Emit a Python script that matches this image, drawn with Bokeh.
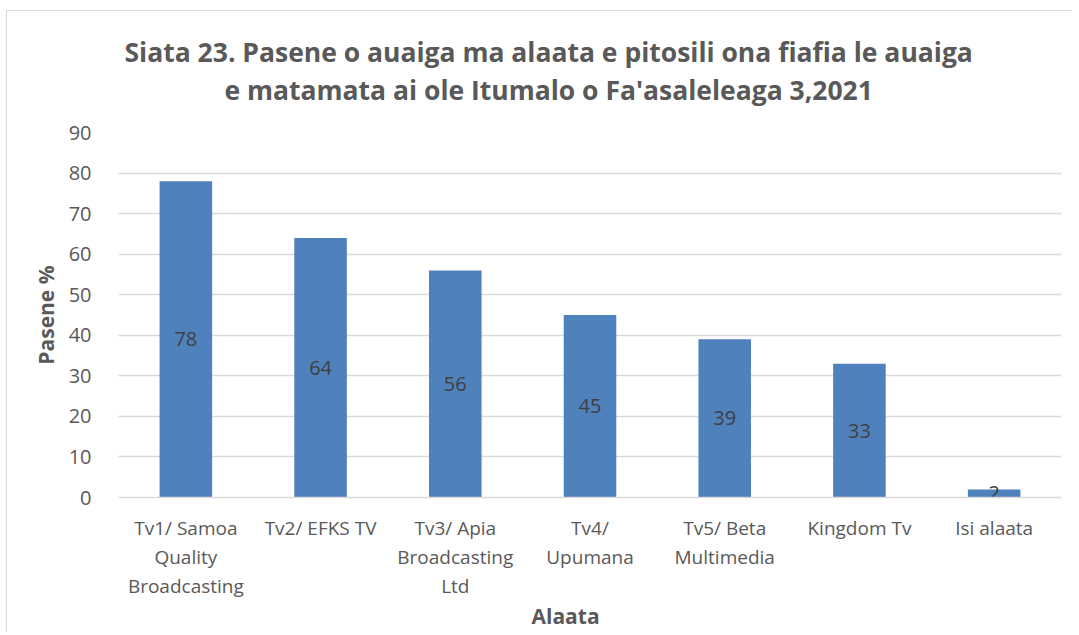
from bokeh.plotting import figure
from bokeh.models import ColumnDataSource, FixedTicker, Range1d, Title, LinearAxis
from bokeh.embed import file_html
from bokeh.resources import INLINE
from bokeh.core.properties import value

categories = ["Tv1/ Samoa Quality Broadcasting", "Tv2/ EFKS TV", "Tv3/ Apia Broadcasting Ltd",
              "Tv4/ Upumana", "Tv5/ Beta Multimedia", "Kingdom Tv", "Isi alaata"]
tick_labels = ["Tv1/ Samoa\nQuality\nBroadcasting", "Tv2/ EFKS TV", "Tv3/ Apia\nBroadcasting\nLtd",
               "Tv4/\nUpumana", "Tv5/ Beta\nMultimedia", "Kingdom Tv", "Isi alaata"]
values = [78, 64, 56, 45, 39, 33, 2]
y_ticks = [0, 10, 20, 30, 40, 50, 60, 70, 80, 90]
title_lines = ["Siata 23. Pasene o auaiga ma alaata e pitosili ona fiafia le auaiga",
               "e matamata ai ole Itumalo o Fa'asaleleaga 3,2021"]
x_title = "Alaata"
y_title = "Pasene %"

FONT = "Open Sans"
TXT = "#595959"

pos = list(range(len(categories)))
src = ColumnDataSource(dict(x=pos, cat=categories, val=values, mid=[v / 2 for v in values],
                            lab=[str(v) for v in values]))

p = figure(x_range=Range1d(-0.5, len(categories) - 0.5), y_range=Range1d(0, 90),
           width=1066, height=622, output_backend="svg", toolbar_location=None,
           min_border_left=111, min_border_top=121, min_border_right=12, min_border_bottom=136)
p.outline_line_color = None
p.styles = {"margin-left": "6px", "margin-top": "10px",
            "border-left": "1px solid #d9d9d9", "border-top": "1px solid #d9d9d9"}

p.vbar(x="x", top="val", width=0.39, source=src, fill_color="#4F81BD", line_color=None)
p.text(x="x", y="mid", text="lab", source=src, text_align="center", text_baseline="middle",
       text_font=value(FONT), text_font_size="20px", text_color="#404040")

p.xgrid.grid_line_color = None
p.ygrid.grid_line_color = "#d9d9d9"
p.ygrid.grid_line_width = 1.5

p.yaxis.ticker = FixedTicker(ticks=y_ticks)
p.yaxis.axis_line_color = None
p.yaxis.major_tick_line_color = None
p.yaxis.minor_tick_line_color = None
p.yaxis.major_tick_out = 0
p.yaxis.major_tick_in = 0
p.yaxis.major_label_text_font = FONT
p.yaxis.major_label_text_font_size = "20px"
p.yaxis.major_label_text_color = TXT
p.yaxis.major_label_standoff = 27
p.yaxis.axis_label = y_title
p.yaxis.axis_label_text_font = FONT
p.yaxis.axis_label_text_font_style = "bold"
p.yaxis.axis_label_text_font_size = "21px"
p.yaxis.axis_label_text_color = TXT
p.yaxis.axis_label_standoff = 6

# x tick labels: one axis per text line of the category labels
split = [lab.split("\n") for lab in tick_labels]
n_lines = max(len(s) for s in split)
standoffs = [17, 0, 0]
axes = [p.xaxis[0]]
for k in range(1, n_lines):
    ax = LinearAxis()
    p.add_layout(ax, "below")
    axes.append(ax)
for k, ax in enumerate(axes):
    ax.ticker = FixedTicker(ticks=pos)
    ax.major_label_overrides = {i: (s[k] if k < len(s) else "") for i, s in zip(pos, split)}
    ax.axis_line_color = "#d9d9d9" if k == 0 else None
    ax.axis_line_width = 1.5
    ax.major_tick_line_color = None
    ax.minor_tick_line_color = None
    ax.major_tick_out = 0
    ax.major_tick_in = 0
    ax.major_label_text_font = FONT
    ax.major_label_text_font_size = "19px"
    ax.major_label_text_color = TXT
    ax.major_label_standoff = standoffs[k]

p.add_layout(Title(text=x_title, align="left", offset=413, vertical_align="top", standoff=0,
                   text_font=FONT, text_font_size="21px", text_font_style="bold",
                   text_color=TXT), "below")

# title: spacer + two lines
p.add_layout(Title(text=" ", text_font_size="10px", standoff=12), "above")
offsets = [6, 106]
for line, off in reversed(list(zip(title_lines, offsets))):
    p.add_layout(Title(text=line, align="left", offset=off, standoff=0, text_font=FONT,
                       text_font_size="26.5px", text_font_style="bold", text_color=TXT), "above")

open("out.html", "w").write(file_html(p, INLINE))
